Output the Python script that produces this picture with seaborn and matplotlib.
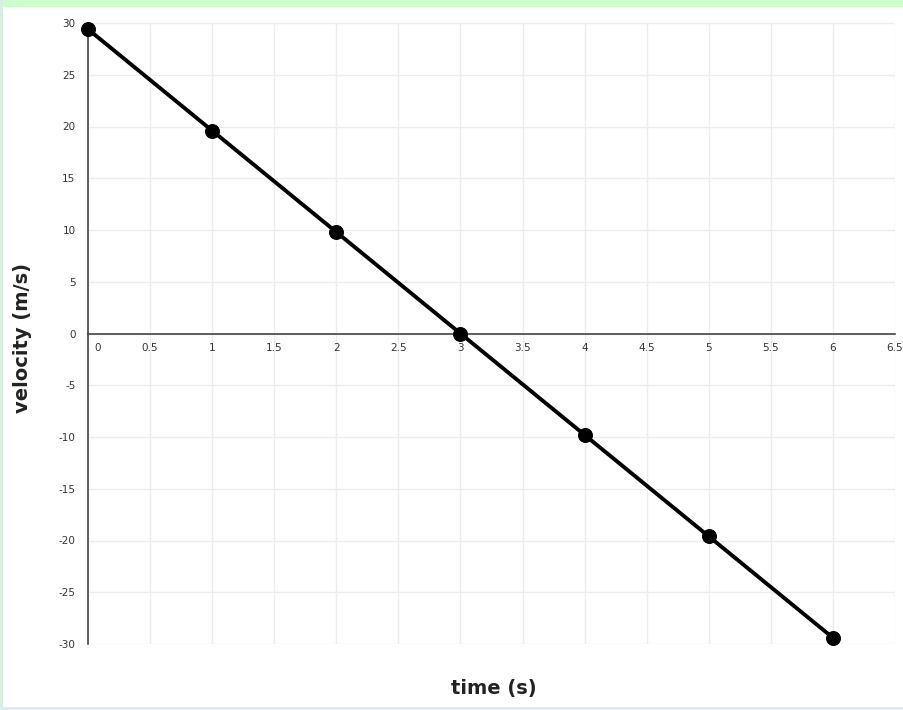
import matplotlib
matplotlib.use("Agg")
import matplotlib.pyplot as plt
import matplotlib.transforms as mtransforms
from matplotlib.patches import Rectangle
import pandas as pd
import seaborn as sns

# velocity of an object thrown upward (g = 9.8 m/s^2)
time_s = [0, 1, 2, 3, 4, 5, 6]
velocity_ms = [29.4, 19.6, 9.8, 0.0, -9.8, -19.6, -29.4]

x_ticks = [0, 0.5, 1, 1.5, 2, 2.5, 3, 3.5, 4, 4.5, 5, 5.5, 6, 6.5]
x_tick_labels = ["0", "0.5", "1", "1.5", "2", "2.5", "3", "3.5", "4", "4.5", "5", "5.5", "6", "6.5"]
y_ticks = [-30, -25, -20, -15, -10, -5, 0, 5, 10, 15, 20, 25, 30]
y_tick_labels = [str(v) for v in y_ticks]

df = pd.DataFrame({"time": time_s, "velocity": velocity_ms})

sns.set_style("white")
plt.rcParams["font.family"] = ["DejaVu Sans"]

fig = plt.figure(figsize=(9.04, 7.1), dpi=100)
W, H = 904, 710
left, right, top, bottom = 88, 895, 23, 644
ax = fig.add_axes([left / W, (H - bottom) / H, (right - left) / W, (bottom - top) / H])

# page frame: green band on top and thin borders
fig.patches.append(Rectangle((0, (H - 7) / H), 1, 7 / H, transform=fig.transFigure,
                             facecolor="#ccffcc", edgecolor="none", zorder=0))
fig.patches.append(Rectangle((0, 0), 3 / W, 1, transform=fig.transFigure,
                             facecolor="#d8eee0", edgecolor="none", zorder=0))
fig.patches.append(Rectangle((0, 0), 1, 3 / H, transform=fig.transFigure,
                             facecolor="#d8eef0", edgecolor="none", zorder=0))

sns.lineplot(data=df, x="time", y="velocity", ax=ax, color="black", linewidth=2.8,
             marker="o", markersize=10, markeredgecolor="black", zorder=5, clip_on=False)

ax.set_xlim(0, 6.5)
ax.set_ylim(-30, 30)
ax.set_xticks(x_ticks)
ax.set_xticklabels(x_tick_labels)
ax.set_yticks(y_ticks)
ax.set_yticklabels(y_tick_labels)

ax.grid(True, color="#ececec", linewidth=1)
ax.set_axisbelow(True)

for side in ["top", "right"]:
    ax.spines[side].set_visible(False)
ax.spines["bottom"].set_position(("data", 0))
ax.spines["left"].set_position(("data", 0))
for side in ["bottom", "left"]:
    ax.spines[side].set_color("#444444")
    ax.spines[side].set_linewidth(1.2)

ax.tick_params(axis="both", direction="inout", length=6, width=1, color="#444444",
               labelsize=7.5, labelcolor="#333333")
ax.tick_params(axis="x", pad=4)
ax.tick_params(axis="y", pad=6)

# shift the "0" label on the time axis off the vertical axis
for lbl in ax.get_xticklabels():
    if lbl.get_text() == "0":
        lbl.set_transform(lbl.get_transform() + mtransforms.ScaledTranslation(10 / 100, 0, fig.dpi_scale_trans))

ax.set_xlabel("time (s)", fontsize=14, fontweight="bold", color="#222222")
ax.set_ylabel("velocity (m/s)", fontsize=14, fontweight="bold", color="#222222")
ax.xaxis.set_label_coords((494 - left) / (right - left), -(679 - bottom) / (bottom - top))
ax.yaxis.set_label_coords((32 - left) / (right - left), (bottom - 338) / (bottom - top))

fig.savefig("out.png", dpi=100, facecolor="white")
